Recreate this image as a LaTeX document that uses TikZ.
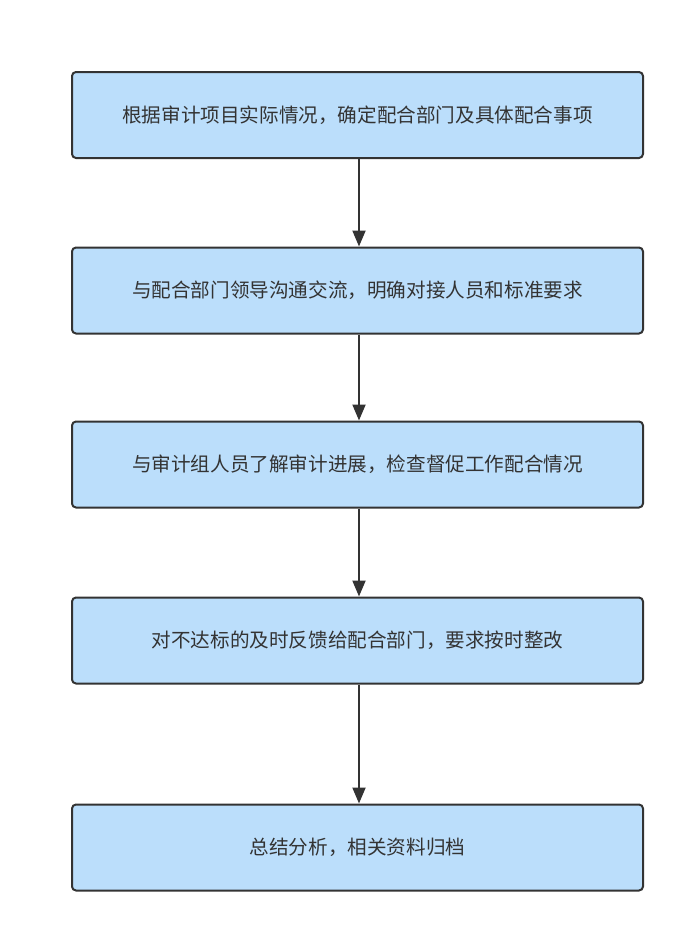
\documentclass[tikz,border=0pt]{standalone}
\usepackage{fontspec}
\newfontfamily\cjk{Noto Sans CJK SC}
\usetikzlibrary{positioning,arrows.meta}
\definecolor{boxfill}{RGB}{187,222,251}
\definecolor{boxline}{RGB}{51,51,51}
\tikzset{
  stepbox/.style={draw=boxline, line width=2pt, fill=boxfill, rounded corners=4pt,
    minimum width=571pt, minimum height=86pt, inner sep=0pt,
    font=\cjk\fontsize{19.6}{23}\selectfont, text=boxline},
  flow/.style={draw=boxline, line width=2pt, -{Triangle[length=16pt,width=13pt]}}
}
\begin{document}
\begin{tikzpicture}[x=1pt,y=-1pt]
        \useasboundingbox (0,0) rectangle (692,937);
        % steps
        \node[stepbox] (s1) at (357.5,115) {根据审计项目实际情况，确定配合部门及具体配合事项};
        \node[stepbox] (s2) at (357.5,290.5) {与配合部门领导沟通交流，明确对接人员和标准要求};
        \node[stepbox] (s3) at (357.5,464.5) {与审计组人员了解审计进展，检查督促工作配合情况};
        \node[stepbox] (s4) at (357.5,640.5) {对不达标的及时反馈给配合部门，要求按时整改};
        \node[stepbox] (s5) at (357.5,847.5) {总结分析，相关资料归档};
        \foreach \a/\b in {s1/s2, s2/s3, s3/s4, s4/s5}{
          \draw[flow] ([xshift=1.5pt]\a.south) -- ([xshift=1.5pt]\b.north);
        }
      \end{tikzpicture}
\end{document}
